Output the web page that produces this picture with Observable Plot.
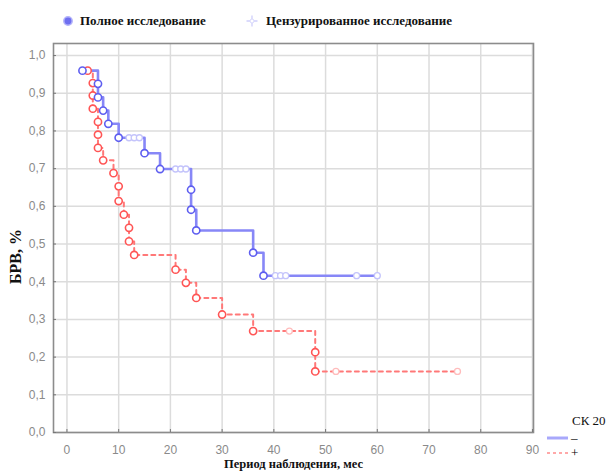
<!DOCTYPE html>
<html>
<head>
<meta charset="utf-8">
<script src="https://cdn.jsdelivr.net/npm/d3@7"></script>
<script src="https://cdn.jsdelivr.net/npm/@observablehq/plot@0.6"></script>
<style>
  html, body { margin: 0; padding: 0; background: #fff; }
  #wrap { position: relative; width: 609px; height: 472px; overflow: hidden; }
  #legend { height: 33px; position: relative; font-family: "Liberation Serif", "Times New Roman", serif; font-weight: bold; font-size: 13px; color: #111; }
  #legend .item { position: absolute; top: 13px; white-space: nowrap; line-height: 16px; }
  #legend svg { position: absolute; }
  #sk { position: absolute; left: 545px; top: 410px; width: 64px; height: 60px; font-family: "Liberation Serif", "Times New Roman", serif; font-size: 13px; color: #111; }
</style>
</head>
<body>
<div id="wrap">
  <div id="legend"></div>
  <div id="chart"></div>
  <div id="sk"></div>
</div>
<script>
// ---- data ----
const legendLabels = ["Полное исследование", "Цензурированное исследование"];
const xTitle = "Период наблюдения, мес";
const yTitle = "БРВ, %";
const groupTitle = "СК 20";
const groupLabels = ["–", "+"];

const xTicks = [0, 10, 20, 30, 40, 50, 60, 70, 80, 90];
const yTicks = [0, 0.1, 0.2, 0.3, 0.4, 0.5, 0.6, 0.7, 0.8, 0.9, 1.0];

// group "–" (blue)
const blueEventT = [3, 6, 6, 7, 8, 10, 15, 18, 24, 24, 25, 36, 38];
const blueEventS = [0.960, 0.925, 0.889, 0.854, 0.819, 0.782, 0.741, 0.699, 0.644, 0.591, 0.536, 0.477, 0.416];
const blueCensT = [12, 13, 14, 21, 22, 23, 40.3, 41.3, 42.3, 56, 60];
const blueCensS = [0.782, 0.782, 0.782, 0.699, 0.699, 0.699, 0.416, 0.416, 0.416, 0.416, 0.416];

// group "+" (red)
const redEventT = [4, 5, 5, 5, 6, 6, 6, 7, 9, 10, 10, 11, 12, 12, 13, 21, 23, 25, 30, 36, 48, 48];
const redEventS = [0.960, 0.927, 0.894, 0.859, 0.824, 0.790, 0.755, 0.722, 0.688, 0.653, 0.614, 0.578, 0.543, 0.507, 0.471, 0.432, 0.397, 0.357, 0.313, 0.269, 0.213, 0.162];
const redCensT = [43, 52, 75.5];
const redCensS = [0.269, 0.162, 0.162];

// colours
const blueLine = "#8787f7", blueMark = "#5e5ef0", blueCens = "#c4c4fb";
const redLine = "#ff7878", redMark = "#ff5555", redCens = "#ffbcbc";

// ---- build tables ----
const pts = (T, S) => T.map((t, i) => ({t, s: S[i]}));
const blueEv = pts(blueEventT, blueEventS), blueCe = pts(blueCensT, blueCensS);
const redEv = pts(redEventT, redEventS), redCe = pts(redCensT, redCensS);
const path = (a, b) => [...a, ...b].sort((p, q) => p.t - q.t || q.s - p.s);
const bluePath = path(blueEv, blueCe), redPath = path(redEv, redCe);

const fmt = d => d.toFixed(1).replace(".", ",");
const tickFont = "'Liberation Sans Narrow', 'Liberation Sans', Arial, sans-serif";
const serif = "'Liberation Serif', 'Times New Roman', serif";

const chart = Plot.plot({
  width: 609,
  height: 439,
  marginTop: 10,
  marginBottom: 40,
  marginLeft: 53,
  marginRight: 76,
  style: {background: "#fff", fontFamily: tickFont},
  x: {domain: [-2.6, 90.2], ticks: xTicks},
  y: {domain: [0, 1.032], ticks: yTicks},
  marks: [
    Plot.gridX(xTicks, {stroke: "#dcdcdc", strokeOpacity: 1, strokeWidth: 1.5}),
    Plot.gridY(yTicks, {stroke: "#dcdcdc", strokeOpacity: 1, strokeWidth: 1.5}),
    Plot.frame({stroke: "#8c8c8c", strokeWidth: 1.6}),
    Plot.axisX(xTicks, {tickSize: -3, tickPadding: 16, fontSize: 12, fill: "#8a8a8a", stroke: "#777", label: null}),
    Plot.axisY(yTicks, {tickSize: -3, tickPadding: 11, fontSize: 12, fill: "#8a8a8a", stroke: "#777", tickFormat: fmt, label: null}),
    Plot.line(redPath, {x: "t", y: "s", curve: "step-after", stroke: redLine, strokeWidth: 2, strokeDasharray: "4,4"}),
    Plot.line(bluePath, {x: "t", y: "s", curve: "step-after", stroke: blueLine, strokeWidth: 2.6}),
    Plot.dot(blueCe, {x: "t", y: "s", r: 3, fill: "#fff", stroke: blueCens, strokeWidth: 1.3}),
    Plot.dot(redCe, {x: "t", y: "s", r: 3, fill: "#fff", stroke: redCens, strokeWidth: 1.3}),
    Plot.dot(redEv, {x: "t", y: "s", r: 3.6, fill: "#fff", stroke: redMark, strokeWidth: 1.6}),
    Plot.dot(blueEv, {x: "t", y: "s", r: 3.6, fill: "#fff", stroke: blueMark, strokeWidth: 1.6}),
    Plot.text([xTitle], {frameAnchor: "bottom", dy: 35, fontFamily: serif, fontWeight: "bold", fontSize: 12.5, fill: "#111"}),
    Plot.text([yTitle], {frameAnchor: "left", rotate: -90, dx: -38, dy: 46, fontFamily: serif, fontWeight: "bold", fontSize: 16, fill: "#111"})
  ]
});
document.getElementById("chart").appendChild(chart);

// ---- top legend ----
const legend = d3.select("#legend");
const l1 = legend.append("svg").attr("width", 12).attr("height", 12).style("left", "62px").style("top", "15px");
l1.append("circle").attr("cx", 6).attr("cy", 6).attr("r", 4.2).attr("fill", "#6f6ff0").attr("stroke", "#b4b4fa").attr("stroke-width", 1.5);
legend.append("div").attr("class", "item").style("left", "80px").text(legendLabels[0]);
const l2 = legend.append("svg").attr("width", 12).attr("height", 12).style("left", "246px").style("top", "15px");
l2.append("path").attr("d", "M6,0.5V11.5M0.5,6H11.5").attr("stroke", "#cfcffb").attr("stroke-width", 1.3);
l2.append("circle").attr("cx", 6).attr("cy", 6).attr("r", 2).attr("fill", "#fff").attr("stroke", "#d8d8fc");
legend.append("div").attr("class", "item").style("left", "266px").text(legendLabels[1]);

// ---- bottom-right group legend ----
const sk = d3.select("#sk");
sk.append("div").style("position", "absolute").style("left", "27px").style("top", "3px").text(groupTitle);
const ss = sk.append("svg").attr("width", 64).attr("height", 60).style("position", "absolute").style("left", "0").style("top", "0");
ss.append("line").attr("x1", 2).attr("x2", 23).attr("y1", 28).attr("y2", 28).attr("stroke", "#a8a8fb").attr("stroke-width", 3);
ss.append("line").attr("x1", 2).attr("x2", 23).attr("y1", 43).attr("y2", 43).attr("stroke", "#ff8c8c").attr("stroke-width", 1.6).attr("stroke-dasharray", "3,3");
ss.append("text").attr("x", 26).attr("y", 32).attr("font-family", "Liberation Serif, serif").attr("font-size", 13).text(groupLabels[0]);
ss.append("text").attr("x", 26).attr("y", 47).attr("font-family", "Liberation Serif, serif").attr("font-size", 13).text(groupLabels[1]);
</script>
</body>
</html>
